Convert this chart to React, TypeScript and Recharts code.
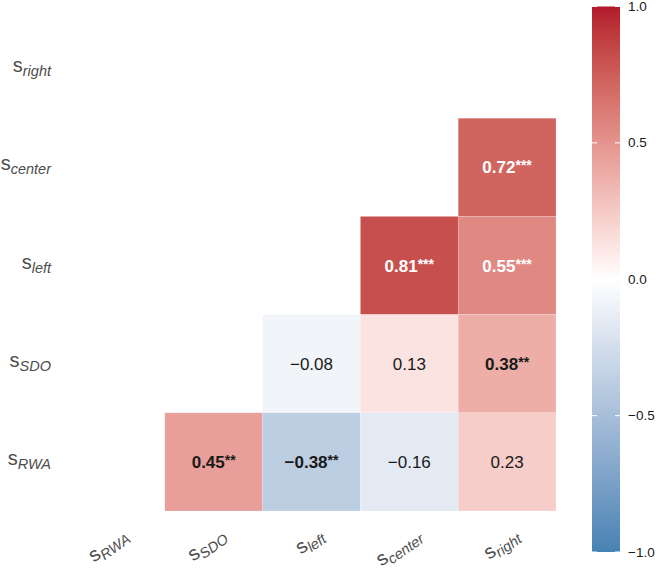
import { ScatterChart, Scatter, XAxis, YAxis } from "recharts";

// variable subscripts, bottom-to-top on y and left-to-right on x
const vars = ["RWA", "SDO", "left", "center", "right"];

// lower-triangle correlations
const cellX = ["right", "center", "right", "left", "center", "right", "SDO", "left", "center", "right"];
const cellY = ["center", "left", "left", "SDO", "SDO", "SDO", "RWA", "RWA", "RWA", "RWA"];
const cellR = [0.72, 0.81, 0.55, -0.08, 0.13, 0.38, 0.45, -0.38, -0.16, 0.23];
const cellStars = ["***", "***", "***", "", "", "**", "**", "**", "", ""];

const barTicks = [1, 0.5, 0, -0.5, -1];

const LOW = "#4682B4";
const HIGH = "#B2182B";
const FONT = "'Liberation Sans', Arial, Helvetica, sans-serif";

const W = 656;
const H = 570;
const M = { top: 20, right: 100, bottom: 0, left: 0 };
const Y_AXIS_W = 67;
const X_AXIS_H = 59;
const CELL_W = (W - M.right - Y_AXIS_W) / vars.length;
const CELL_H = (H - M.top - X_AXIS_H) / vars.length;
const X_LABEL_ANGLE = -35;

// ---- Lab colour interpolation (like scale_fill_gradient2) ----
type Tri = [number, number, number];
const hexToRgb = (h: string): Tri => [1, 3, 5].map((i) => parseInt(h.slice(i, i + 2), 16)) as Tri;
const toLin = (c: number) => {
  c /= 255;
  return c <= 0.04045 ? c / 12.92 : Math.pow((c + 0.055) / 1.055, 2.4);
};
const fromLin = (c: number) => {
  const v = c <= 0.0031308 ? 12.92 * c : 1.055 * Math.pow(c, 1 / 2.4) - 0.055;
  return Math.round(Math.max(0, Math.min(1, v)) * 255);
};
const rgbToLab = ([r, g, b]: Tri): Tri => {
  const R = toLin(r), G = toLin(g), B = toLin(b);
  const X = (0.4124 * R + 0.3576 * G + 0.1805 * B) / 0.95047;
  const Y = 0.2126 * R + 0.7152 * G + 0.0722 * B;
  const Z = (0.0193 * R + 0.1192 * G + 0.9505 * B) / 1.08883;
  const f = (t: number) => (t > 0.008856 ? Math.cbrt(t) : 7.787 * t + 16 / 116);
  const fx = f(X), fy = f(Y), fz = f(Z);
  return [116 * fy - 16, 500 * (fx - fy), 200 * (fy - fz)];
};
const labToHex = ([L, a, b]: Tri) => {
  const fy = (L + 16) / 116, fx = fy + a / 500, fz = fy - b / 200;
  const inv = (t: number) => (t ** 3 > 0.008856 ? t ** 3 : (t - 16 / 116) / 7.787);
  const X = inv(fx) * 0.95047, Y = inv(fy), Z = inv(fz) * 1.08883;
  const R = 3.2406 * X - 1.5372 * Y - 0.4986 * Z;
  const G = -0.9689 * X + 1.8758 * Y + 0.0415 * Z;
  const B = 0.0557 * X - 0.204 * Y + 1.057 * Z;
  return "#" + [R, G, B].map((c) => fromLin(c).toString(16).padStart(2, "0")).join("");
};
const labWhite = rgbToLab([255, 255, 255]);
const labLow = rgbToLab(hexToRgb(LOW));
const labHigh = rgbToLab(hexToRgb(HIGH));
const corrColor = (r: number) => {
  const end = r >= 0 ? labHigh : labLow;
  const t = Math.min(1, Math.abs(r));
  return labToHex(labWhite.map((w, i) => w + (end[i] - w) * t) as Tri);
};

const fmt = (r: number) => (r < 0 ? "\u2212" : "") + Math.abs(r).toFixed(2);

const cells = cellR.map((r, i) => ({
  x: vars.indexOf(cellX[i]),
  y: vars.indexOf(cellY[i]),
  r,
  stars: cellStars[i],
}));

const CorrCell = (props: any) => {
  const { cx, cy, payload } = props;
  const light = payload.r > 0.5;
  const sig = payload.stars !== "";
  return (
    <g>
      <rect
        x={cx - CELL_W / 2}
        y={cy - CELL_H / 2}
        width={CELL_W}
        height={CELL_H}
        fill={corrColor(payload.r)}
        stroke="#ffffff"
        strokeOpacity={0.35}
        strokeWidth={0.5}
      />
      <text
        x={cx}
        y={cy + 6}
        textAnchor="middle"
        fontFamily={FONT}
        fontSize={17}
        fontWeight={sig ? 700 : 400}
        fill={light ? "#ffffff" : "#1a1a1a"}
      >
        {fmt(payload.r)}
        {sig && (
          <tspan fontSize={14} dy={-3}>
            {payload.stars}
          </tspan>
        )}
      </text>
    </g>
  );
};

const VarLabel = ({ name }: { name: string }) => (
  <>
    <tspan fontSize={20}>s</tspan>
    <tspan fontSize={14.5} fontStyle="italic" dy={4}>
      {name}
    </tspan>
  </>
);

const XTick = (props: any) => {
  const { x, y, payload } = props;
  return (
    <g transform={`translate(${x + 13.5}, ${y + 19}) rotate(${X_LABEL_ANGLE})`}>
      <text x={0} y={0} textAnchor="end" fill="#4d4d4d" fontFamily={FONT}>
        <VarLabel name={vars[payload.value]} />
      </text>
    </g>
  );
};

const YTick = (props: any) => {
  const { x, y, payload } = props;
  return (
    <text x={x - 8} y={y + 3} textAnchor="end" fill="#4d4d4d" fontFamily={FONT}>
      <VarLabel name={vars[payload.value]} />
    </text>
  );
};

// vertical colour bar legend
const BAR_X = 592;
const BAR_W = 28;
const BAR_TOP = 6.5;
const BAR_BOTTOM = 552;
const barY = (v: number) => BAR_TOP + ((1 - v) / 2) * (BAR_BOTTOM - BAR_TOP);
const gradStops = Array.from({ length: 41 }, (_, i) => 1 - i * 0.05);

const ColorBar = () => (
  <svg width={W} height={H} style={{ position: "absolute", left: 0, top: 0, pointerEvents: "none" }}>
    <defs>
      <linearGradient id="corrBar" x1="0" y1="0" x2="0" y2="1">
        {gradStops.map((v) => (
          <stop key={v} offset={`${((1 - v) / 2) * 100}%`} stopColor={corrColor(v)} />
        ))}
      </linearGradient>
    </defs>
    <rect x={BAR_X} y={BAR_TOP} width={BAR_W} height={BAR_BOTTOM - BAR_TOP} fill="url(#corrBar)" />
    {barTicks.map((v) => (
      <g key={v}>
        <line x1={BAR_X} x2={BAR_X + 5} y1={barY(v)} y2={barY(v)} stroke="#ffffff" strokeWidth={1} />
        <line x1={BAR_X + BAR_W - 5} x2={BAR_X + BAR_W} y1={barY(v)} y2={barY(v)} stroke="#ffffff" strokeWidth={1} />
        <text x={BAR_X + BAR_W + 8} y={barY(v) + 4.5} fontFamily={FONT} fontSize={13.5} fill="#1a1a1a">
          {(v < 0 ? "\u2212" : "") + Math.abs(v).toFixed(1)}
        </text>
      </g>
    ))}
  </svg>
);

export default function App() {
  return (
    <div style={{ position: "absolute", left: 0, top: 0, width: W, height: H, background: "#ffffff" }}>
      <ScatterChart width={W} height={H} margin={M}>
        <XAxis
          type="number"
          dataKey="x"
          domain={[-0.5, 4.5]}
          ticks={[0, 1, 2, 3, 4]}
          interval={0}
          tick={<XTick />}
          axisLine={false}
          tickLine={false}
          height={X_AXIS_H}
        />
        <YAxis
          type="number"
          dataKey="y"
          domain={[-0.5, 4.5]}
          ticks={[0, 1, 2, 3, 4]}
          interval={0}
          tick={<YTick />}
          axisLine={false}
          tickLine={false}
          width={Y_AXIS_W}
        />
        <Scatter data={cells} shape={<CorrCell />} isAnimationActive={false} />
      </ScatterChart>
      <ColorBar />
    </div>
  );
}
